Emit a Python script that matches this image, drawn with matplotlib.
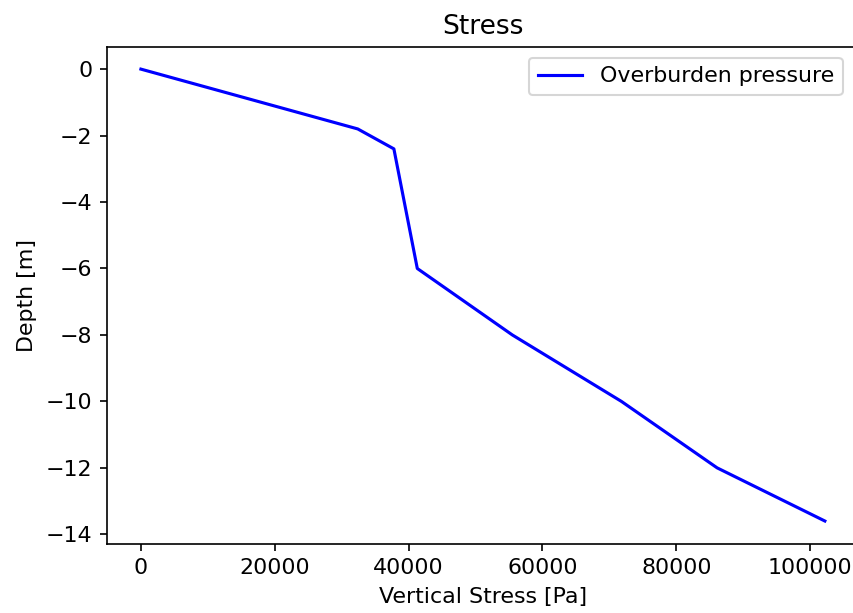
import matplotlib
matplotlib.use("Agg")
import matplotlib.pyplot as plt

# Contrainte verticale (Pa) vs profondeur (m)
vertical_stress = [0, 32400, 37800, 41300, 55500, 71800, 86100, 102200]
depth = [0, -1.8, -2.4, -6.0, -8.0, -10.0, -12.0, -13.6]

plt.rcParams["font.size"] = 10.6

fig = plt.figure(figsize=(853 / 150, 613 / 150), dpi=150)
ax = fig.add_axes([0.1251, 0.1132, 0.882, 0.8109])
ax.plot(vertical_stress, depth, color="blue", label="Overburden pressure")
ax.set_title("Stress")
ax.set_xlabel("Vertical Stress [Pa]")
ax.set_ylabel("Depth [m]")
ax.set_xticks([0, 20000, 40000, 60000, 80000, 100000])
ax.set_yticks([0, -2, -4, -6, -8, -10, -12, -14])
ax.legend(loc="upper right", bbox_to_anchor=(0.993, 1.0))
fig.savefig("out.png", dpi=150)
